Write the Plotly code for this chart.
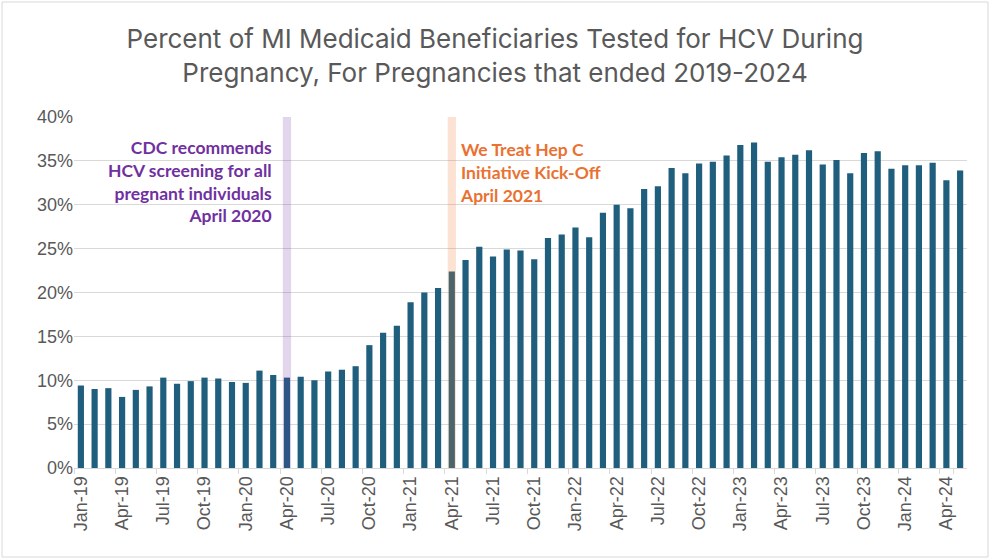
import plotly.graph_objects as go

months = ["Jan", "Feb", "Mar", "Apr", "May", "Jun", "Jul", "Aug", "Sep", "Oct", "Nov", "Dec"]
categories = [f"{m}-{y}" for y in ["19", "20", "21", "22", "23", "24"] for m in months][:65]

pct_tested = [
    9.4, 9.0, 9.1, 8.1, 8.9, 9.3, 10.3, 9.6, 9.9, 10.3, 10.2, 9.8,
    9.7, 11.1, 10.6, 10.3, 10.4, 10.0, 11.0, 11.2, 11.6, 14.0, 15.4, 16.2,
    18.9, 20.0, 20.5, 22.4, 23.7, 25.2, 24.1, 24.9, 24.8, 23.8, 26.2, 26.6,
    27.4, 26.3, 29.1, 30.0, 29.6, 31.8, 32.1, 34.2, 33.6, 34.7, 34.9, 35.6,
    36.8, 37.1, 34.9, 35.4, 35.7, 36.2, 34.6, 35.1, 33.6, 35.9, 36.1, 34.1,
    34.5, 34.5, 34.8, 32.8, 33.9,
]
values = [v / 100 for v in pct_tested]

tick_labels = categories[::3]

events = [
    {"month": "Apr-20", "color": "rgba(112,48,160,0.20)",
     "text": "CDC recommends<br>HCV screening for all<br>pregnant individuals<br>April 2020",
     "font_color": "#7030A0", "side": "right"},
    {"month": "Apr-21", "color": "rgba(237,125,49,0.22)",
     "text": "We Treat Hep C<br>Initiative Kick-Off<br>April 2021",
     "font_color": "#E97132", "side": "left"},
]

fig = go.Figure()
fig.add_trace(go.Bar(x=categories, y=values, marker_color="#1F5E7C",
                     marker_line_width=0, hoverinfo="x+y"))

shapes = []
annotations = []
for ev in events:
    idx = categories.index(ev["month"])
    shapes.append(dict(type="rect", xref="x", yref="paper", x0=idx - 0.3, x1=idx + 0.3,
                       y0=0, y1=1, fillcolor=ev["color"], line_width=0, layer="above"))
    if ev["side"] == "right":
        annotations.append(dict(x=idx - 0.95, y=0.379, xref="x", yref="y", text=ev["text"],
                                showarrow=False, xanchor="right", yanchor="top", align="right",
                                font=dict(family="Lato", size=17.5, color=ev["font_color"], weight="bold")))
    else:
        annotations.append(dict(x=idx + 0.42, y=0.377, xref="x", yref="y", text=ev["text"],
                                showarrow=False, xanchor="left", yanchor="top", align="left",
                                font=dict(family="Lato", size=17.5, color=ev["font_color"], weight="bold")))

# outer chart border
shapes.append(dict(type="rect", xref="paper", yref="paper", x0=-0.0806, x1=1.0235,
                   y0=-0.2536, y1=1.3276, line=dict(color="#D9D9D9", width=1), layer="below"))

fig.update_layout(
    width=990, height=559,
    margin=dict(l=74, r=23, t=117, b=91),
    paper_bgcolor="white", plot_bgcolor="white",
    title=dict(text="Percent of MI Medicaid Beneficiaries Tested for HCV During<br>Pregnancy, For Pregnancies that ended 2019-2024",
               x=0.5, xanchor="center", y=0.914, yanchor="top",
               font=dict(family="Inter", size=26, color="#595959")),
    bargap=0.55,
    showlegend=False,
    shapes=shapes,
    annotations=annotations,
    xaxis=dict(type="category", tickmode="array", tickvals=tick_labels, ticktext=tick_labels,
               tickangle=-90, tickson="boundaries", ticks="outside", ticklen=5,
               tickcolor="#D9D9D9", showline=True, linecolor="#D9D9D9", linewidth=1,
               showgrid=False, tickfont=dict(family="Liberation Sans", size=18, color="#595959")),
    yaxis=dict(range=[0, 0.40], tickvals=[i / 100 for i in range(0, 41, 5)], tickformat=".0%",
               showgrid=True, gridcolor="#D9D9D9", gridwidth=1, zeroline=False,
               tickfont=dict(family="Liberation Sans", size=18, color="#595959"), ticks=""),
)

fig.write_html("out.html", config={"displayModeBar": False},
               post_script="document.body.style.margin='0';")
